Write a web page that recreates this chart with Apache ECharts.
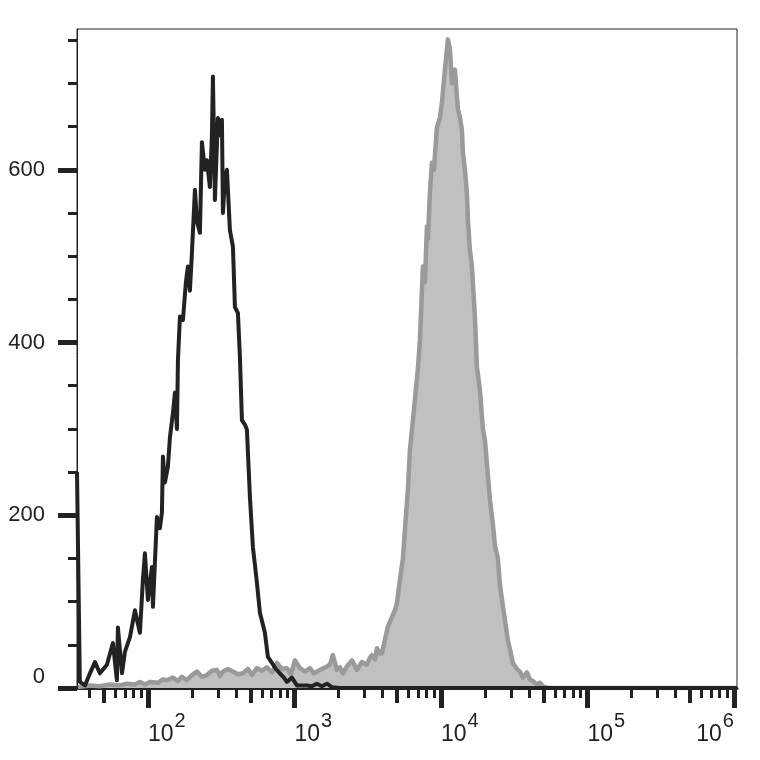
<!DOCTYPE html>
<html><head><meta charset="utf-8">
<script src="https://cdn.jsdelivr.net/npm/echarts@6/dist/echarts.min.js"></script>
<style>html,body{margin:0;padding:0;background:#fff}#c{width:760px;height:760px}</style>
</head><body><div id="c"></div>
<script>
// Axis ranges
const X_MIN = 32.8;
const X_MAX = 1050000;
const Y_MAX = 763;

// Tick values
const xTicksMajor = [100, 1000, 10000, 100000, 1000000];
const xTicksMid = [50, 500, 5000, 50000, 500000];
const xTicksMinor = [40, 60, 70, 80, 90,
  200, 300, 400, 600, 700, 800, 900,
  2000, 3000, 4000, 6000, 7000, 8000, 9000,
  20000, 30000, 40000, 60000, 70000, 80000, 90000,
  200000, 300000, 400000, 600000, 700000, 800000, 900000];
const yTicksMajor = [0, 200, 400, 600];
const yTicksMinor = [50, 100, 150, 250, 300, 350, 450, 500, 550, 650, 700, 750];

// Control (black outline) histogram
const controlX = [32.8, 34.3, 37.2, 40.2, 43.5, 47.0, 52.5, 57.7, 61.4, 62.4, 66.5, 69.7, 75.4, 81.5, 88.2,
  92.4, 95.4, 100, 106.5, 108.2, 111.6, 115.2, 120.7, 124.6, 126.6, 130.6, 136.9, 141.3, 148.1, 152.9,
  157.8, 160.3, 165.4, 173.4, 181.7, 187.5, 193.5, 199.7, 209.4, 216.1, 226.4, 233.7, 244.9, 252.7,
  264.9, 273.4, 277.8, 286.6, 300.4, 310.0, 320.0, 325.1, 335.5, 346.2, 362.9, 380.4, 392.6, 411.5,
  424.6, 438.2, 459.4, 474.0, 496.9, 520.9, 554.6, 581.5, 628.9, 659.3, 702.1, 747.6, 796.1, 847.7,
  888.8, 961.4, 1040, 1125, 1217, 1317, 1424, 1540, 1667, 1803, 2045, 1050000];
const controlCount = [250, 7, 3, 17, 30, 17, 27, 52, 9, 70, 17, 42, 59, 90, 64,
  125, 156, 102, 140, 94, 145, 198, 185, 203, 268, 238, 256, 290, 318, 342,
  300, 380, 430, 426, 470, 488, 460, 504, 577, 540, 527, 632, 600, 611,
  580, 640, 708, 565, 660, 640, 658, 550, 590, 600, 530, 511, 441, 434,
  383, 310, 305, 299, 221, 163, 122, 87, 64, 36, 29, 22, 17, 12,
  7, 12, 3, 3, 3, 2, 5, 2, 5, 1, 0, 0];

// Stained (grey filled) histogram
const stainedX = [33.3, 40.2, 47.0, 55.0, 64.4, 71.9, 81.5, 88.2, 95.4, 103.2, 117.0, 126.6, 134.8, 148.1,
  160.3, 170.6, 184.6, 199.7, 216.1, 233.7, 252.7, 273.4, 295.8, 310.0, 325.1, 351.6, 380.4, 411.5,
  445.1, 481.6, 512.8, 554.6, 600.1, 649.1, 702.1, 759.5, 821.5, 888.8, 946.4, 1008, 1090, 1180,
  1276, 1359, 1424, 1540, 1667, 1747, 1831, 1950, 2045, 2143, 2282, 2469, 2671, 2889, 3125, 3275,
  3381, 3544, 3658, 3833, 3957, 4147, 4346, 4629, 4853, 5008, 5250, 5503, 5679, 5954, 6144, 6441,
  6645, 6966, 7190, 7537, 7779, 8027, 8152, 8411, 8681, 8959, 9391, 9845, 10160, 10650, 11160,
  11520, 11890, 12460, 13060, 13480, 13910, 14130, 14580, 15050, 15290, 15770, 16280, 17060,
  17610, 18460, 19350, 19970, 20610, 21610, 22640, 23370, 24490, 25270, 26490, 27340, 28660,
  29580, 31000, 33020, 34620, 36290, 38640, 40490, 42460, 45220, 47400, 49690, 53760, 1050000];
const stainedCount = [1, 3, 2, 4, 3, 5, 4, 7, 4, 7, 6, 10, 9, 12,
  8, 13, 9, 15, 19, 13, 15, 20, 21, 14, 19, 22, 19, 16,
  17, 22, 15, 23, 20, 24, 18, 29, 22, 23, 16, 32, 23, 19,
  23, 17, 19, 22, 25, 27, 38, 21, 24, 17, 25, 32, 21, 30, 27, 35,
  38, 33, 46, 40, 40, 56, 71, 82, 90, 98, 125, 150, 183, 230, 276, 310,
  334, 370, 403, 488, 470, 534, 520, 573, 608, 600, 649, 660, 678, 716, 751,
  740, 700, 716, 670, 661, 646, 620, 600, 573, 542, 507, 488, 430,
  372, 345, 300, 287, 260, 218, 190, 165, 150, 120, 95, 79, 55,
  45, 29, 22, 19, 12, 18, 10, 8, 4, 6, 2, 0, 0];

const zip = (xs, ys) => xs.map((x, i) => [x, ys[i]]);
const FONT = '"Liberation Sans", Arial, Helvetica, sans-serif';
const INK = '#222222';

const baseX = {
  type: 'log', logBase: 10, min: X_MIN, max: X_MAX, gridIndex: 0, position: 'bottom',
  splitLine: { show: false }, axisLine: { show: false }, axisLabel: { show: false }
};
const baseY = {
  type: 'value', min: 0, max: Y_MAX, gridIndex: 0, position: 'left',
  splitLine: { show: false }, axisLine: { show: false }, axisLabel: { show: false }
};

const chart = echarts.init(document.getElementById('c'), null, { renderer: 'canvas' });
chart.setOption({
  animation: false,
  backgroundColor: '#ffffff',
  grid: {
    left: 77, right: 23, top: 29, bottom: 72,
    show: true, borderColor: INK, borderWidth: 1, backgroundColor: 'transparent',
    containLabel: false, outerBoundsMode: 'none'
  },
  xAxis: [
    Object.assign({}, baseX, {
      axisLine: { show: true, onZero: false, lineStyle: { color: INK, width: 3 } },
      axisTick: { show: true, customValues: xTicksMajor, length: 20, lineStyle: { color: INK, width: 5 } },
      axisLabel: {
        show: true, customValues: xTicksMajor, margin: 23, align: 'left', alignMaxLabel: 'right',
        formatter: v => '{b|10}{s|' + Math.round(Math.log10(v)) + '}',
        rich: {
          b: { fontSize: 23, fontFamily: FONT, color: INK, verticalAlign: 'bottom' },
          s: { fontSize: 20, fontFamily: FONT, color: INK, verticalAlign: 'bottom', padding: [0, 0, 15, 1] }
        }
      }
    }),
    Object.assign({}, baseX, {
      axisTick: { show: true, customValues: xTicksMid, length: 15, lineStyle: { color: INK, width: 4 } }
    }),
    Object.assign({}, baseX, {
      axisTick: { show: true, customValues: xTicksMinor, length: 10, lineStyle: { color: INK, width: 3 } }
    })
  ],
  yAxis: [
    Object.assign({}, baseY, {
      axisLine: { show: true, onZero: false, lineStyle: { color: INK, width: 1 } },
      axisTick: { show: true, customValues: yTicksMajor, length: 19, lineStyle: { color: INK, width: 5 } },
      axisLabel: {
        show: true, customValues: yTicksMajor, margin: 32, fontSize: 22, fontFamily: FONT, color: INK,
        verticalAlignMinLabel: 'bottom'
      }
    }),
    Object.assign({}, baseY, {
      axisTick: { show: true, customValues: yTicksMinor, length: 9, lineStyle: { color: INK, width: 3 } }
    })
  ],
  series: [
    {
      type: 'line', name: 'stained', xAxisIndex: 0, yAxisIndex: 0,
      data: zip(stainedX, stainedCount), symbol: 'none', showSymbol: false, silent: true,
      lineStyle: { color: '#9a9a9a', width: 4.5, join: 'round' },
      areaStyle: { color: '#c0c0c0', opacity: 1 }, z: 2
    },
    {
      type: 'line', name: 'control', xAxisIndex: 0, yAxisIndex: 0,
      data: zip(controlX, controlCount), symbol: 'none', showSymbol: false, silent: true,
      lineStyle: { color: INK, width: 4, join: 'round' }, z: 3
    }
  ]
});
</script></body></html>
